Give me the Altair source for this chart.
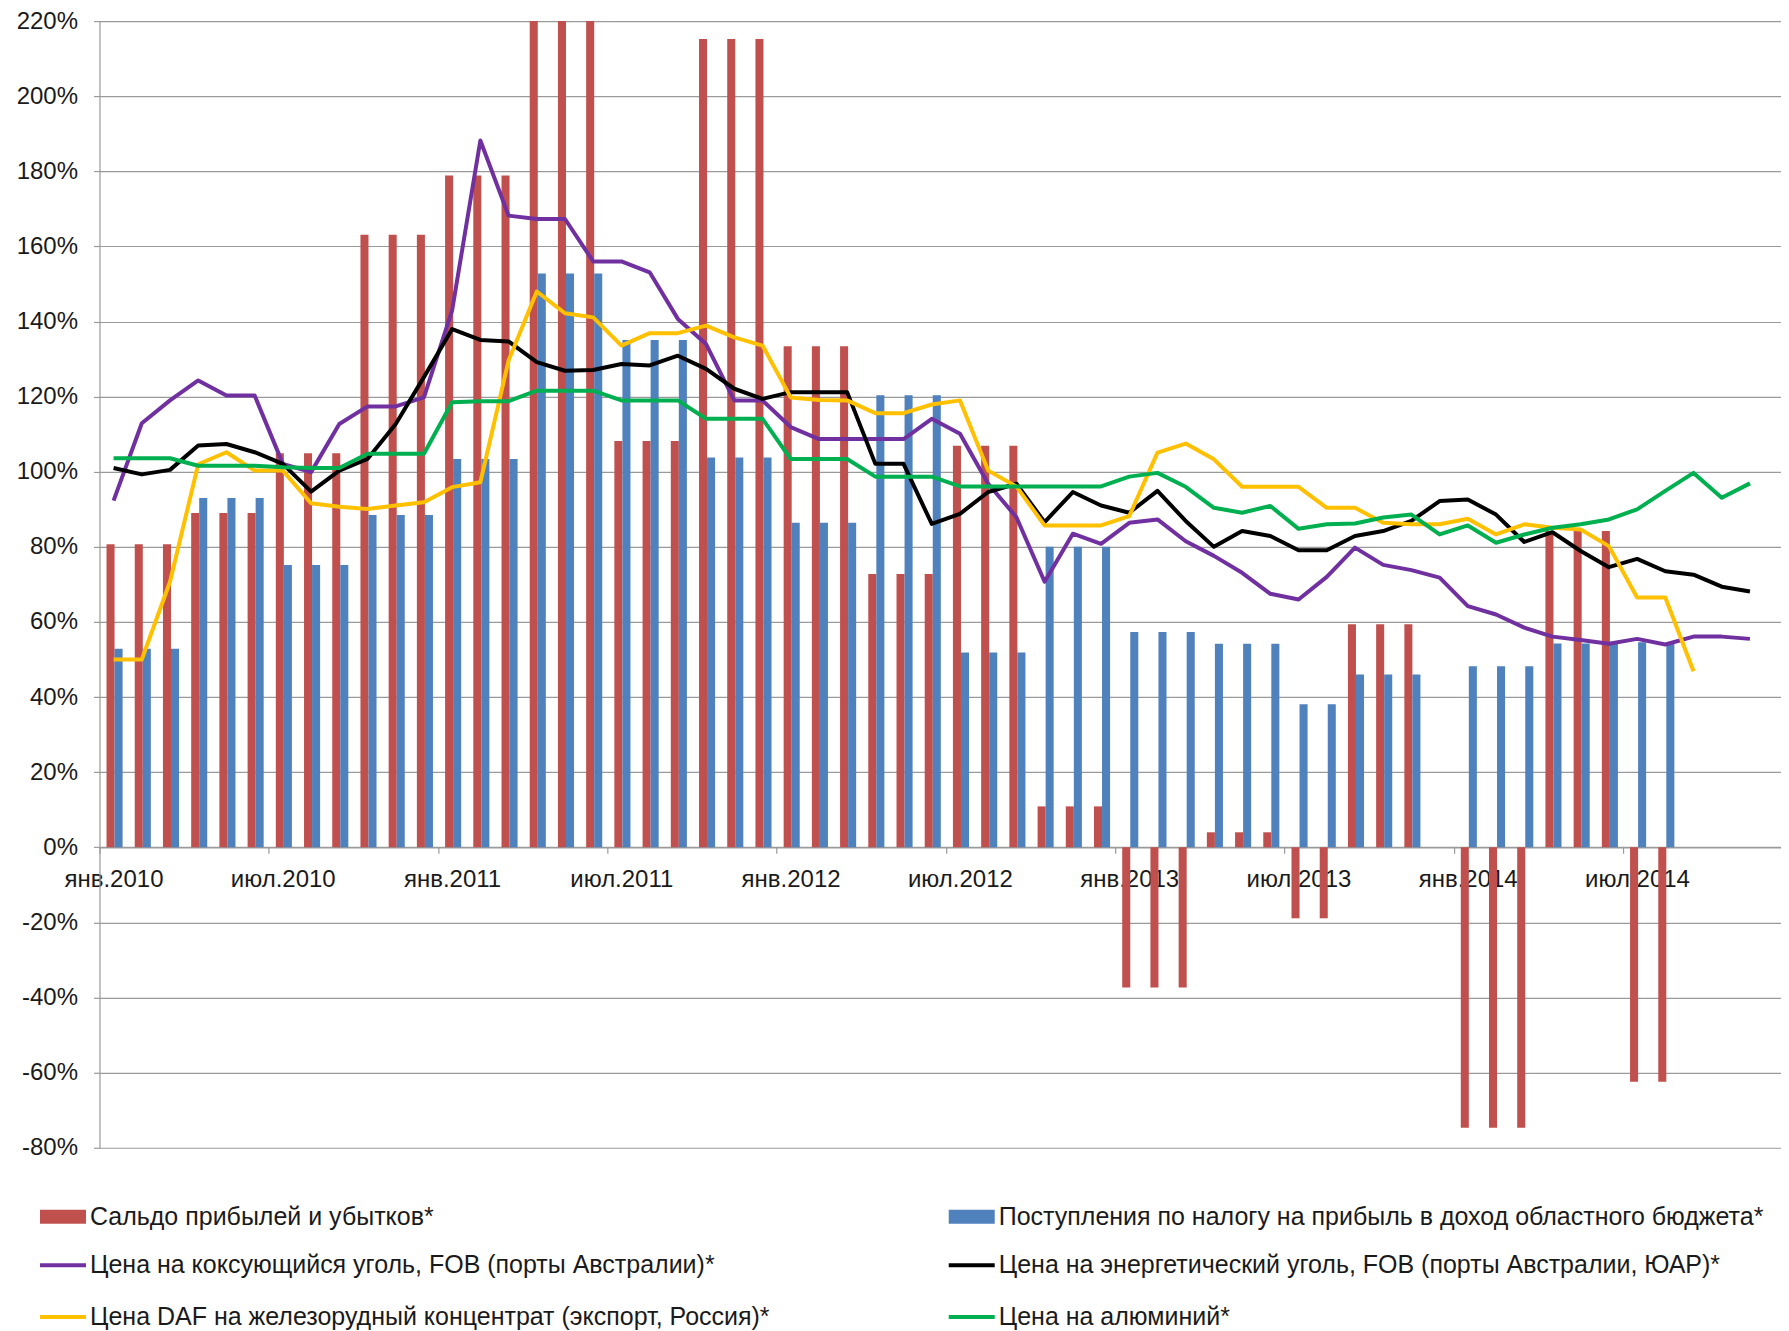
import altair as alt
import pandas as pd

# ---------------- data ----------------
tick_labels = ["янв.2010", "июл.2010", "янв.2011", "июл.2011", "янв.2012",
               "июл.2012", "янв.2013", "июл.2013", "янв.2014", "июл.2014"]

bar_names = ["Сальдо прибылей и убытков*",
             "Поступления по налогу на прибыль в доход областного бюджета*"]
line_names = ["Цена на коксующийся уголь, FOB (порты Австралии)*",
              "Цена на энергетический уголь, FOB (порты Австралии, ЮАР)*",
              "Цена DAF на железорудный концентрат (экспорт, Россия)*",
              "Цена на алюминий*"]

# monthly values, Jan 2010 .. Dec 2014 (percent)
profit_balance = [80.7, 80.7, 80.7, 89.0, 89.0, 89.0, 104.9, 104.9, 104.9, 163.1, 163.1, 163.1,
                  178.9, 178.9, 178.9, 240.0, 240.0, 240.0, 108.2, 108.2, 108.2, 215.2, 215.2, 215.2,
                  133.4, 133.4, 133.4, 72.8, 72.8, 72.8, 106.9, 106.9, 106.9, 10.9, 10.9, 10.9,
                  -37.3, -37.3, -37.3, 4.0, 4.0, 4.0, -18.9, -18.9, 59.4, 59.4, 59.4, None,
                  -74.7, -74.7, -74.7, 84.2, 84.2, 84.2, -62.4, -62.4, None, None, None, None]

tax_receipts = [52.9, 52.9, 52.9, 93.0, 93.0, 93.0, 75.2, 75.2, 75.2, 88.5, 88.5, 88.5,
                103.4, 103.4, 103.4, 152.8, 152.8, 152.8, 135.1, 135.1, 135.1, 103.8, 103.8, 103.8,
                86.4, 86.4, 86.4, 120.4, 120.4, 120.4, 51.9, 51.9, 51.9, 80.0, 80.0, 80.0,
                57.3, 57.3, 57.3, 54.2, 54.2, 54.2, 38.1, 38.1, 46.0, 46.0, 46.0, None,
                48.2, 48.2, 48.2, 54.3, 54.3, 54.3, 54.6, 54.6, None, None, None, None]

coking_coal = [92.3, 112.9, 119.0, 124.3, 120.3, 120.3, 102.1, 99.9, 112.7, 117.4, 117.4, 119.8,
               143.0, 188.2, 168.2, 167.3, 167.3, 156.0, 156.0, 153.1, 140.7, 134.0, 119.0, 119.0,
               111.9, 108.7, 108.7, 108.7, 108.7, 114.1, 110.1, 96.8, 87.9, 70.7, 83.5, 80.8,
               86.4, 87.3, 81.5, 77.6, 73.1, 67.5, 66.0, 72.0, 79.8, 75.2, 73.8, 71.8,
               64.2, 62.0, 58.5, 56.1, 55.2, 54.2, 55.5, 54.0, 56.1, 56.1, 55.5]

steam_coal = [101.0, 99.3, 100.5, 107.0, 107.4, 105.2, 102.1, 94.7, 100.3, 103.4, 112.7, 125.2,
              138.0, 135.1, 134.7, 129.2, 126.9, 127.1, 128.7, 128.3, 130.9, 127.4, 122.1, 119.4,
              121.2, 121.2, 121.2, 102.1, 102.1, 86.1, 88.8, 94.6, 96.8, 86.6, 94.6, 91.0,
              89.1, 94.9, 86.9, 80.0, 84.2, 82.9, 79.1, 79.1, 82.9, 84.2, 86.9, 92.2,
              92.6, 88.6, 81.3, 83.9, 78.9, 74.6, 76.8, 73.5, 72.6, 69.4, 68.1]

iron_ore = [50.0, 50.0, 70.7, 102.0, 105.2, 100.3, 100.3, 91.6, 90.7, 90.1, 91.0, 91.9,
            95.9, 97.2, 129.6, 148.0, 142.2, 141.1, 133.6, 136.9, 136.9, 138.9, 135.8, 133.6,
            119.8, 119.1, 119.0, 115.6, 115.6, 117.9, 119.0, 100.3, 96.1, 85.7, 85.7, 85.7,
            88.2, 105.1, 107.5, 103.3, 96.0, 96.0, 96.0, 90.4, 90.4, 86.4, 86.0, 86.0,
            87.5, 83.3, 86.0, 85.1, 84.6, 80.2, 66.5, 66.5, 46.9]

aluminium = [103.6, 103.6, 103.6, 101.6, 101.6, 101.6, 101.2, 101.0, 101.0, 104.8, 104.8, 104.8,
             118.5, 118.8, 118.8, 121.6, 121.6, 121.6, 119.0, 119.0, 119.0, 114.1, 114.1, 114.1,
             103.4, 103.4, 103.4, 98.7, 98.7, 98.7, 96.1, 96.1, 96.1, 96.1, 96.1, 96.1,
             98.7, 99.7, 96.0, 90.4, 89.1, 90.9, 84.8, 86.0, 86.2, 87.8, 88.6, 83.3,
             85.7, 81.1, 83.3, 85.1, 86.0, 87.3, 90.0, 94.9, 99.7, 93.1, 96.9]

bar_colors = ["#C0504D", "#4F81BD"]
line_colors = ["#7030A0", "#000000", "#FFC000", "#00B050"]

# ---------------- tables ----------------
bar_rows = []
for name, series, lo, hi in [(bar_names[0], profit_balance, 0.25, 0.535),
                             (bar_names[1], tax_receipts, 0.535, 0.82)]:
    for i, v in enumerate(series):
        if v is not None:
            bar_rows.append({"series": name, "x0": i + lo, "x1": i + hi, "value": v})
bar_df = pd.DataFrame(bar_rows)

line_rows = []
for name, series in zip(line_names, [coking_coal, steam_coal, iron_ore, aluminium]):
    for i, v in enumerate(series):
        line_rows.append({"series": name, "x": i + 0.5, "value": v})
line_df = pd.DataFrame(line_rows)

# ---------------- scales / axes ----------------
FONT = "Liberation Sans"
GRID = "#9a9a9a"

x_scale = alt.Scale(domain=[0, 59.6], nice=False, zero=False)
y_scale = alt.Scale(domain=[-80, 220], nice=False)

label_expr = "[" + ",".join("'" + t + "'" for t in tick_labels) + "][round(datum.value / 6)]"

x_axis = alt.Axis(values=list(range(0, 55, 6)), labelExpr=label_expr, labelOffset=14,
                  offset=-300.5, grid=False, tickSize=6, tickColor=GRID, tickWidth=1.2,
                  domainColor=GRID, domainWidth=1.2, labelFontSize=24, labelFont=FONT,
                  labelColor="#1a1a1a", labelPadding=14, labelFlush=False, labelOverlap=False)

y_axis = alt.Axis(values=list(range(-80, 221, 20)), labelExpr="datum.value + '%'",
                  grid=True, gridColor=GRID, gridWidth=1.2, tickSize=6, tickColor=GRID,
                  tickWidth=1.2, domainColor=GRID, domainWidth=1.2, labelFontSize=24,
                  labelFont=FONT, labelColor="#1a1a1a", labelPadding=16, labelOverlap=False)

bar_legend = alt.Legend(orient="none", legendX=-59.5, legendY=1173, direction="horizontal",
                        columns=2, columnPadding=515, rowPadding=5, padding=0,
                        symbolType="M-1,-0.3L1,-0.3L1,0.3L-1,0.3Z", symbolSize=2116,
                        symbolStrokeWidth=0, labelFontSize=25, labelFont=FONT,
                        labelColor="#1a1a1a", labelLimit=1200, labelOffset=4)

line_legend = alt.Legend(orient="none", legendX=-61.5, legendY=1219.6, direction="horizontal",
                         columns=2, columnPadding=170, rowPadding=13.8, padding=0,
                         symbolType="stroke", symbolSize=2116, symbolStrokeWidth=4,
                         labelFontSize=25, labelFont=FONT, labelColor="#1a1a1a",
                         labelLimit=1200, labelOffset=2)

bars = alt.Chart(bar_df).mark_bar(clip=True).encode(
    x=alt.X("x0:Q", scale=x_scale, axis=x_axis, title=None),
    x2="x1:Q",
    y=alt.Y("value:Q", scale=y_scale, axis=y_axis, title=None),
    y2=alt.datum(0),
    color=alt.Color("series:N", scale=alt.Scale(domain=bar_names, range=bar_colors),
                    legend=bar_legend, title=None),
)

lines = alt.Chart(line_df).mark_line(strokeWidth=4, strokeJoin="round", clip=True).encode(
    x=alt.X("x:Q", scale=x_scale, axis=x_axis, title=None),
    y=alt.Y("value:Q", scale=y_scale, axis=y_axis, title=None),
    stroke=alt.Stroke("series:N", scale=alt.Scale(domain=line_names, range=line_colors),
                      legend=line_legend, title=None, sort=line_names),
)

chart = alt.layer(bars, lines).properties(
    width=1682, height=1127,
    autosize=alt.AutoSizeParams(type="none"),
    padding={"left": 91.5, "top": 12.9, "right": 0, "bottom": 183},
    background="white",
).configure_view(strokeWidth=0)

chart.save("out.html", embed_options={"renderer": "svg", "actions": False})
